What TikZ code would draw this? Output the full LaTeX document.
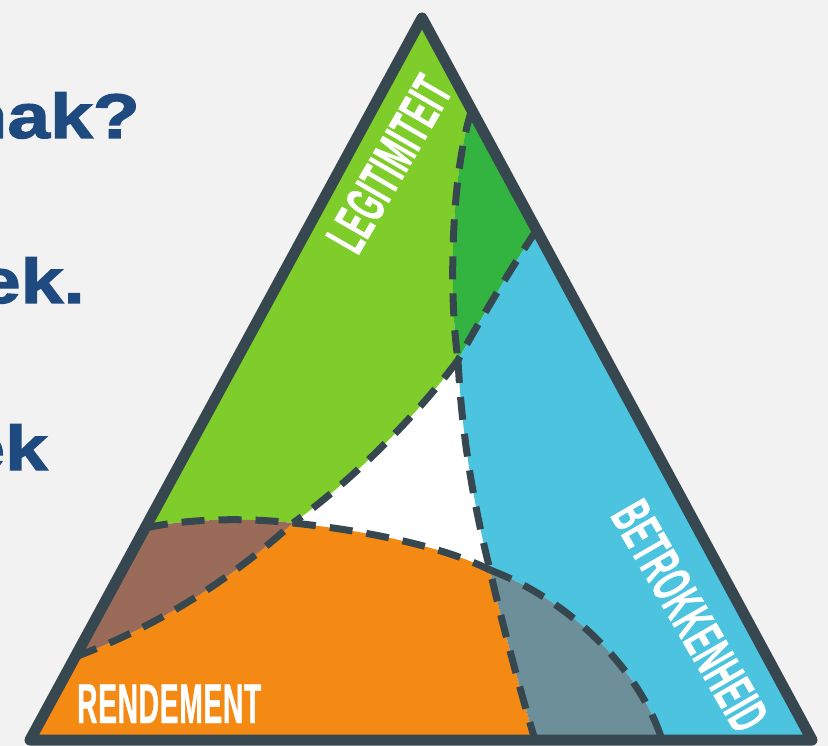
\documentclass[tikz,border=0pt]{standalone}
\usepackage{fontspec}
\usepackage{tikz}
\usetikzlibrary{calc}

\newfontfamily\tagfont[FakeStretch=0.5,FakeBold=0.7,LetterSpace=1.5]{Liberation Sans Bold}
\newfontfamily\askfont[FakeStretch=1.22,FakeBold=2]{Liberation Sans Bold}

\definecolor{paper}{HTML}{F2F2F2}
\definecolor{slate}{HTML}{36474F}
\definecolor{lime}{HTML}{7ECD2A}
\definecolor{leaf}{HTML}{33B340}
\definecolor{sky}{HTML}{4CC4E0}
\definecolor{amber}{HTML}{F48913}
\definecolor{clay}{HTML}{9B6B59}
\definecolor{stone}{HTML}{6D8F99}
\definecolor{navy}{HTML}{1F4A7F}

\begin{document}
\begin{tikzpicture}[x=1pt,y=-1pt,
    rim/.style={draw=slate, line width=11pt, line join=round},
    seam/.style={draw=slate, line width=7pt, dash pattern=on 23pt off 14pt},
    tag/.style={text=white, inner sep=0pt, font=\tagfont\fontsize{56}{60}\selectfont},
    ask/.style={text=navy, inner sep=0pt, anchor=base east, font=\askfont\fontsize{63}{70}\selectfont}]
    \fill[paper] (0,0) rectangle (828,746);
    \clip (0,0) rectangle (828,746);

    % corners and meeting points
    \coordinate (apex) at (422,18);
    \coordinate (left) at (30,740);
    \coordinate (right) at (812,740);
    \coordinate (legL) at ($(apex)!0.7064!(left)$);
    \coordinate (renL) at ($(apex)!0.885!(left)$);
    \coordinate (legR) at ($(apex)!0.1274!(right)$);
    \coordinate (betR) at ($(apex)!0.2936!(right)$);
    \coordinate (renB) at (535,740);
    \coordinate (betB) at (662,740);
    \coordinate (cN) at (458,360);
    \coordinate (cW) at (293,523);
    \coordinate (cE) at (490,570);

    % regions
    \fill[white] (apex) -- (left) -- (right) -- cycle;
    \fill[lime] (apex) -- (legL) .. controls (190,518) and (250,518) .. (cW)
        .. controls (360,475) and (425,405) .. (cN)
        .. controls (448,290) and (452,170) .. (legR) -- cycle;
    \fill[leaf] (legR) -- (betR) .. controls (510,270) and (480,320) .. (cN)
        .. controls (448,290) and (452,170) .. (legR) -- cycle;
    \fill[sky] (betR) -- (right) -- (betB) .. controls (640,670) and (570,600) .. (cE)
        .. controls (475,510) and (462,440) .. (cN)
        .. controls (480,320) and (510,270) .. (betR) -- cycle;
    \fill[amber] (renL) -- (left) -- (renB) .. controls (520,690) and (500,615) .. (cE)
        .. controls (440,545) and (360,530) .. (cW)
        .. controls (230,580) and (160,625) .. (renL) -- cycle;
    \fill[clay] (legL) -- (renL) .. controls (160,625) and (230,580) .. (cW)
        .. controls (250,518) and (190,518) .. (legL) -- cycle;
    \fill[stone] (cE) .. controls (500,615) and (520,690) .. (renB) -- (betB)
        .. controls (640,670) and (570,600) .. (cE) -- cycle;

    % dashed borders
    \draw[seam] (legR) .. controls (452,170) and (448,290) .. (cN);
    \draw[seam] (betR) .. controls (510,270) and (480,320) .. (cN);
    \draw[seam] (cN) .. controls (462,440) and (475,510) .. (cE)
        .. controls (500,615) and (520,690) .. (renB);
    \draw[seam] (cN) .. controls (425,405) and (360,475) .. (cW);
    \draw[seam] (cW) .. controls (360,530) and (440,545) .. (cE);
    \draw[seam] (cE) .. controls (570,600) and (640,670) .. (betB);
    \draw[seam] (legL) .. controls (190,518) and (250,518) .. (cW);
    \draw[seam] (renL) .. controls (160,625) and (230,580) .. (cW);

    \draw[rim] (apex) -- (left) -- (right) -- cycle;

    % labels
    \node[tag, rotate=60] (legit) at (389,164) {LEGITIMITEIT};
    \node[tag, rotate=-60] (betr) at (690,616) {BETROKKENHEID};
    \node[tag, anchor=base west] (rend) at (77,723) {RENDEMENT};

    \node[ask] (ask1) at (140,138) {nak?};
    \node[ask] (ask2) at (85,303) {ek.};
    \node[ask] (ask3) at (48,470) {ek};
\end{tikzpicture}
\end{document}
